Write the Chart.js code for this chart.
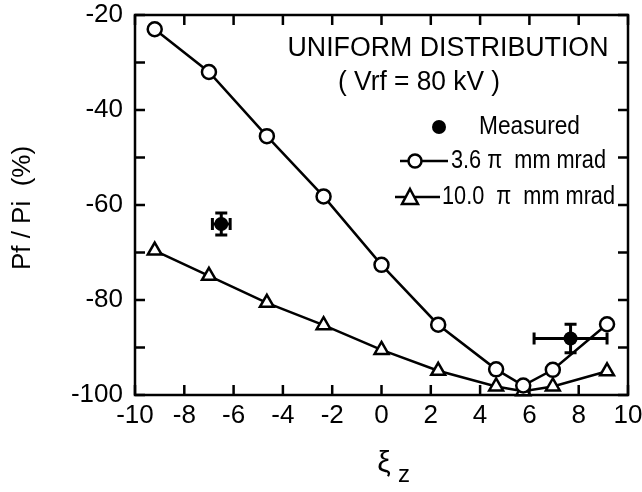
<!DOCTYPE html>
<html>
<head>
<meta charset="utf-8">
<script src="https://cdn.jsdelivr.net/npm/chart.js@4.4.1/dist/chart.umd.min.js"></script>
<style>
  html, body { margin: 0; padding: 0; background: #fff; }
</style>
</head>
<body>
<canvas id="chart" width="642" height="492"></canvas>
<script>
// xi_z positions of the simulated points
const xiZ = [-9.2, -7.0, -4.65, -2.35, 0, 2.3, 4.65, 5.75, 6.95, 9.15];
// Pf/Pi (%) for the two emittances
const emit36 = [-23.0, -32.0, -45.5, -58.2, -72.6, -85.2, -94.6, -98.0, -94.7, -85.1];
const emit100 = [-69.6, -74.9, -80.6, -85.3, -90.5, -94.9, -98.2, -99.2, -98.2, -95.0];
// measured points with error bars
const measX = [-6.5, 7.67];
const measY = [-64.0, -88.1];
const measXErr = [0.36, 1.48];
const measYErr = [2.3, 3.0];

const FONT = '"Liberation Sans", Arial, sans-serif';

const toPoints = (xs, ys) => xs.map((v, i) => ({x: v, y: ys[i]}));

// frame with inward ticks on all four sides
const framePlugin = {
  id: 'frame',
  beforeDatasetsDraw(chart) {
    const {ctx, chartArea: a, scales: {x, y}} = chart;
    ctx.save();
    ctx.strokeStyle = '#000';
    ctx.lineWidth = 2.5;
    ctx.strokeRect(a.left, a.top, a.right - a.left, a.bottom - a.top);
    ctx.beginPath();
    x.ticks.forEach(t => {
      const px = x.getPixelForValue(t.value);
      ctx.moveTo(px, a.bottom); ctx.lineTo(px, a.bottom - 10);
      ctx.moveTo(px, a.top); ctx.lineTo(px, a.top + 10);
    });
    y.ticks.forEach(t => {
      const py = y.getPixelForValue(t.value);
      ctx.moveTo(a.left, py); ctx.lineTo(a.left + 10, py);
      ctx.moveTo(a.right, py); ctx.lineTo(a.right - 10, py);
    });
    ctx.stroke();
    ctx.restore();
  },
  afterDatasetsDraw(chart) {
    const {ctx, scales: {x, y}} = chart;
    ctx.save();
    ctx.strokeStyle = '#000';
    ctx.lineWidth = 3;
    measX.forEach((mx, i) => {
      const cx = x.getPixelForValue(mx), cy = y.getPixelForValue(measY[i]);
      const x0 = x.getPixelForValue(mx - measXErr[i]), x1 = x.getPixelForValue(mx + measXErr[i]);
      const y0 = y.getPixelForValue(measY[i] + measYErr[i]), y1 = y.getPixelForValue(measY[i] - measYErr[i]);
      ctx.beginPath();
      ctx.moveTo(x0, cy); ctx.lineTo(x1, cy);
      ctx.moveTo(cx, y0); ctx.lineTo(cx, y1);
      // caps
      ctx.moveTo(x0, cy - 6); ctx.lineTo(x0, cy + 6);
      ctx.moveTo(x1, cy - 6); ctx.lineTo(x1, cy + 6);
      ctx.moveTo(cx - 6, y0); ctx.lineTo(cx + 6, y0);
      ctx.moveTo(cx - 6, y1); ctx.lineTo(cx + 6, y1);
      ctx.stroke();
    });
    ctx.restore();
  },
  afterDraw(chart) {
    const {ctx} = chart;
    ctx.save();
    ctx.fillStyle = '#000';
    ctx.strokeStyle = '#000';
    ctx.textBaseline = 'middle';

    // annotation
    ctx.textAlign = 'center';
    ctx.font = '27px ' + FONT;
    ctx.fillText('UNIFORM DISTRIBUTION', 448, 49, 321);
    ctx.fillText('( Vrf = 80 kV )', 419, 83, 162);

    // legend
    ctx.textAlign = 'left';
    ctx.font = '25px ' + FONT;
    ctx.beginPath(); ctx.arc(439, 127, 7, 0, Math.PI * 2); ctx.fill();
    ctx.fillText('Measured', 479, 127, 101);

    ctx.lineWidth = 2.5;
    ctx.beginPath(); ctx.moveTo(400, 161); ctx.lineTo(448, 161); ctx.stroke();
    ctx.beginPath(); ctx.arc(415, 161, 6.5, 0, Math.PI * 2);
    ctx.fillStyle = '#fff'; ctx.fill(); ctx.stroke();
    ctx.fillStyle = '#000';
    ctx.fillText('3.6 \u03c0  mm mrad', 451, 161, 155);

    ctx.beginPath(); ctx.moveTo(395, 197); ctx.lineTo(440, 197); ctx.stroke();
    ctx.beginPath();
    ctx.moveTo(410, 189); ctx.lineTo(418, 204); ctx.lineTo(402, 204); ctx.closePath();
    ctx.fillStyle = '#fff'; ctx.fill(); ctx.stroke();
    ctx.fillStyle = '#000';
    ctx.fillText('10.0  \u03c0  mm mrad', 442, 197, 173);

    // axis titles
    ctx.font = '26px ' + FONT;
    ctx.textAlign = 'center';
    ctx.save();
    ctx.translate(23, 208);
    ctx.rotate(-Math.PI / 2);
    ctx.fillText('Pf / Pi  (%)', 0, 0);
    ctx.restore();
    ctx.font = '30px ' + FONT;
    ctx.fillText('\u03be', 384, 464);
    ctx.font = '24px ' + FONT;
    ctx.fillText('z', 404, 475);
    ctx.restore();
  }
};

new Chart(document.getElementById('chart'), {
  type: 'scatter',
  data: {
    datasets: [
      {
        label: 'Measured',
        data: toPoints(measX, measY),
        pointStyle: 'circle',
        pointRadius: 7,
        backgroundColor: '#000',
        borderColor: '#000',
        borderWidth: 0,
        order: 0
      },
      {
        label: '3.6 \u03c0 mm mrad',
        data: toPoints(xiZ, emit36),
        showLine: true,
        borderColor: '#000',
        borderWidth: 2.5,
        pointStyle: 'circle',
        pointRadius: 7,
        pointBorderWidth: 2.5,
        pointBackgroundColor: '#fff',
        pointBorderColor: '#000',
        clip: false,
        order: 1
      },
      {
        label: '10.0 \u03c0 mm mrad',
        data: toPoints(xiZ, emit100),
        showLine: true,
        borderColor: '#000',
        borderWidth: 2.5,
        pointStyle: 'triangle',
        pointRadius: 8,
        pointBorderWidth: 2.5,
        pointBackgroundColor: '#fff',
        pointBorderColor: '#000',
        clip: false,
        order: 2
      }
    ]
  },
  options: {
    responsive: false,
    animation: false,
    layout: { autoPadding: false, padding: { top: 15, right: 14, left: 0, bottom: 0 } },
    plugins: { legend: { display: false }, tooltip: { enabled: false } },
    scales: {
      x: {
        type: 'linear',
        min: -10, max: 10,
        grid: { display: false, drawTicks: false },
        border: { display: false },
        ticks: { stepSize: 2, padding: 5, color: '#000', font: { family: FONT, size: 26 }, maxRotation: 0 },
        afterFit: s => { s.height = 97; s.paddingLeft = 0; s.paddingRight = 0; }
      },
      y: {
        type: 'linear',
        min: -100, max: -20,
        grid: { display: false, drawTicks: false },
        border: { display: false },
        ticks: {
          stepSize: 10, padding: 12, color: '#000', font: { family: FONT, size: 26 },
          callback: v => (v % 20 === 0 ? v : '')
        },
        afterFit: s => { s.width = 135; s.paddingTop = 0; s.paddingBottom = 0; }
      }
    }
  },
  plugins: [framePlugin]
});
</script>
</body>
</html>
